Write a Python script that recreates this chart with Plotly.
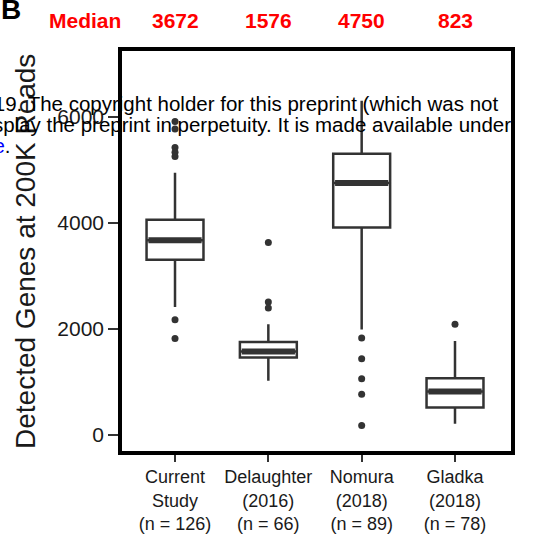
import plotly.graph_objects as go

# ---- data ----
categories = ["Current<br>Study<br>(n = 126)", "Delaughter<br>(2016)<br>(n = 66)",
              "Nomura<br>(2018)<br>(n = 89)", "Gladka<br>(2018)<br>(n = 78)"]
q1 = [3306, 1462, 3913, 519]
median = [3672, 1576, 4750, 823]
q3 = [4057, 1756, 5300, 1069]
lower_whisker = [2413, 1025, 1988, 213]
upper_whisker = [4944, 2088, 6300, 1775]
outliers = [
    [5910, 5770, 5420, 5330, 5250, 2175, 1819],
    [3631, 2506, 2394],
    [1831, 1438, 1063, 769, 181],
    [2088],
]
y_ticks = [0, 2000, 4000, 6000]

# ---- layout constants ----
W, H = 533, 546
ML, MR, MT, MB = 122, 22, 51, 93
PW, PH = W - ML - MR, H - MT - MB
BOX_W = 0.61
DARK = "#333333"
FONT = "Liberation Sans, Arial, sans-serif"


def px_x(p):
    return (p - ML) / PW


def px_y(p):
    return (H - MB - p) / PH


fig = go.Figure()
xs = list(range(len(categories)))
for i in xs:
    fig.add_trace(go.Box(
        x=[i], q1=[q1[i]], median=[median[i]], q3=[q3[i]],
        lowerfence=[lower_whisker[i]], upperfence=[upper_whisker[i]],
        width=BOX_W, whiskerwidth=0, boxpoints=False,
        line=dict(color=DARK, width=2.5), fillcolor="white",
        showlegend=False, hoverinfo="skip"))
    fig.add_trace(go.Scatter(
        x=[i - BOX_W / 2 + 0.02, i + BOX_W / 2 - 0.02], y=[median[i], median[i]],
        mode="lines", line=dict(color=DARK, width=6), showlegend=False,
        hoverinfo="skip"))
    fig.add_trace(go.Scatter(
        x=[i] * len(outliers[i]), y=outliers[i], mode="markers",
        marker=dict(color=DARK, size=7), showlegend=False, hoverinfo="skip"))

fig.update_xaxes(
    range=[-0.568, 3.6], tickmode="array", tickvals=xs, ticktext=categories,
    showgrid=False, zeroline=False, showline=True, mirror=True,
    linewidth=3.5, linecolor="black", ticks="outside", ticklen=7,
    tickwidth=2, tickcolor=DARK, tickfont=dict(size=18, color="#1a1a1a"))
fig.update_yaxes(
    range=[-300, 7238], tickmode="array", tickvals=y_ticks,
    ticktext=[str(t) for t in y_ticks],
    showgrid=False, zeroline=False, showline=True, mirror=True,
    linewidth=3.5, linecolor="black", ticks="outside", ticklen=10,
    tickwidth=2, tickcolor=DARK, tickfont=dict(size=21, color="#1a1a1a"))

ann = []
# y-axis title
ann.append(dict(text="Detected Genes at 200K Reads", xref="paper", yref="paper",
                x=px_x(26), y=px_y(253), textangle=-90, showarrow=False,
                xanchor="center", yanchor="middle",
                font=dict(size=28, color="#1a1a1a", family=FONT)))
# median labels
ann.append(dict(text="<b>Median</b>", xref="paper", yref="paper", x=px_x(85),
                y=px_y(20), showarrow=False, xanchor="center", yanchor="middle",
                font=dict(size=21, color="red", family=FONT)))
for i in xs:
    ann.append(dict(text="<b>%d</b>" % median[i], xref="x", yref="paper", x=i,
                    y=px_y(20), showarrow=False, xanchor="center",
                    yanchor="middle", font=dict(size=21, color="red", family=FONT)))
# panel letter
ann.append(dict(text="<b>B</b>", xref="paper", yref="paper", x=px_x(-1),
                y=px_y(9), showarrow=False, xanchor="left", yanchor="middle",
                font=dict(size=28, color="black", family=FONT)))
# preprint watermark text
ann.append(dict(text="2019. The copyright holder for this preprint (which was not",
                xref="paper", yref="paper", x=px_x(501), y=px_y(104),
                showarrow=False, xanchor="right", yanchor="middle",
                font=dict(size=20.5, color="black", family=FONT)))
ann.append(dict(text="display the preprint in perpetuity. It is made available under",
                xref="paper", yref="paper", x=px_x(513), y=px_y(125),
                showarrow=False, xanchor="right", yanchor="middle",
                font=dict(size=20.5, color="black", family=FONT)))
ann.append(dict(text="<span style='color:blue'>license</span>.",
                xref="paper", yref="paper", x=px_x(13), y=px_y(146),
                showarrow=False, xanchor="right", yanchor="middle",
                font=dict(size=20.5, color="black", family=FONT)))

fig.update_layout(
    width=W, height=H, margin=dict(l=ML, r=MR, t=MT, b=MB),
    plot_bgcolor="white", paper_bgcolor="white",
    font=dict(family=FONT, color="#1a1a1a"), annotations=ann)

fig.write_html("out.html")
